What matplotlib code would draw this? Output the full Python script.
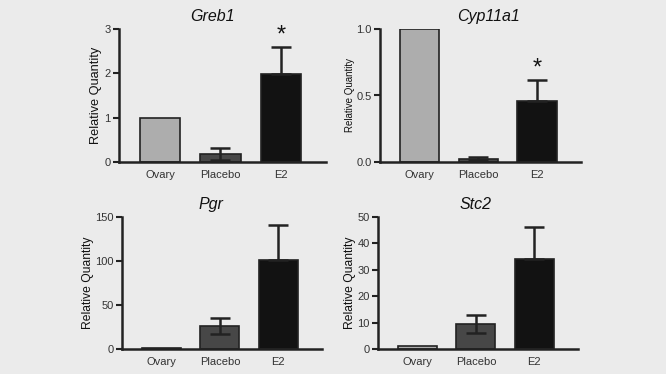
import matplotlib
matplotlib.use("Agg")
import matplotlib.pyplot as plt

plt.rcParams['font.family'] = ['Liberation Sans', 'DejaVu Sans']

groups = ["Ovary", "Placebo", "E2"]
colors = ["#adadad", "#474747", "#121212"]

genes = ["Greb1", "Cyp11a1", "Pgr", "Stc2"]
greb1 = [1.0, 0.18, 1.98]
greb1_err = [0.0, 0.14, 0.62]
cyp11a1 = [1.0, 0.025, 0.46]
cyp11a1_err = [0.0, 0.01, 0.16]
pgr = [1.0, 26.0, 101.0]
pgr_err = [0.0, 9.0, 40.0]
stc2 = [1.0, 9.5, 34.0]
stc2_err = [0.0, 3.5, 12.3]

values = [greb1, cyp11a1, pgr, stc2]
errors = [greb1_err, cyp11a1_err, pgr_err, stc2_err]
yticks = [[0, 1, 2, 3], [0.0, 0.5, 1.0], [0, 50, 100, 150], [0, 10, 20, 30, 40, 50]]
ytick_labels = [["0", "1", "2", "3"], ["0.0", "0.5", "1.0"],
                ["0", "50", "100", "150"], ["0", "10", "20", "30", "40", "50"]]
stars = [True, True, False, False]

W, H = 666, 374
bg = "#ebebeb"
fig = plt.figure(figsize=(W / 100, H / 100), dpi=100, facecolor=bg)

# axes boxes in pixels: left, right, top, bottom
boxes = [(119, 326, 29, 162), (380, 581, 29, 162),
         (122, 322, 217, 349), (378, 578, 217, 349)]
ylabel_size = [9.2, 7, 8.7, 8.7]
ylabel_pad = [2, 1, 1, 1]
title_x = [0.45, 0.54, 0.445, 0.49]

for i, gene in enumerate(genes):
    l, r, t, b = boxes[i]
    ax = fig.add_axes([l / W, (H - b) / H, (r - l) / W, (b - t) / H])
    ax.set_facecolor(bg)
    x = range(3)
    ax.bar(x, values[i], width=0.67, color=colors, edgecolor="#222222",
           linewidth=1.2, zorder=2)
    low = [errors[i][1], 0]
    high = errors[i][1:]
    ax.errorbar([1, 2], values[i][1:], yerr=[low, high], fmt="none",
                ecolor="#222222", elinewidth=1.8, capsize=7, capthick=1.8, zorder=3)
    top = yticks[i][-1]
    ax.set_ylim(0, top)
    ax.set_xlim(-0.68, 2.75)
    ax.set_yticks(yticks[i])
    ax.set_yticklabels(ytick_labels[i])
    ax.set_xticks(list(x))
    ax.set_xticklabels(groups)
    ax.tick_params(axis="x", length=0, labelsize=8, colors="#333333", pad=6)
    ax.tick_params(axis="y", length=4, width=1.5, labelsize=8, colors="#333333", pad=2)
    ax.tick_params(axis="y", color="#222222")
    for s in ["top", "right"]:
        ax.spines[s].set_visible(False)
    for s in ["left", "bottom"]:
        ax.spines[s].set_linewidth(1.8)
        ax.spines[s].set_color("#222222")
    ax.set_ylabel("Relative Quantity", fontsize=ylabel_size[i], color="#111111",
                  labelpad=ylabel_pad[i])
    ax.set_title(gene, fontsize=11.5, style="italic", color="#111111", pad=6, x=title_x[i])
    if stars[i]:
        y = values[i][2] + errors[i][2]
        ax.text(2, y, "*", ha="center", va="bottom", fontsize=17, color="#111111")

fig.savefig("out.png", dpi=100, facecolor=bg)
